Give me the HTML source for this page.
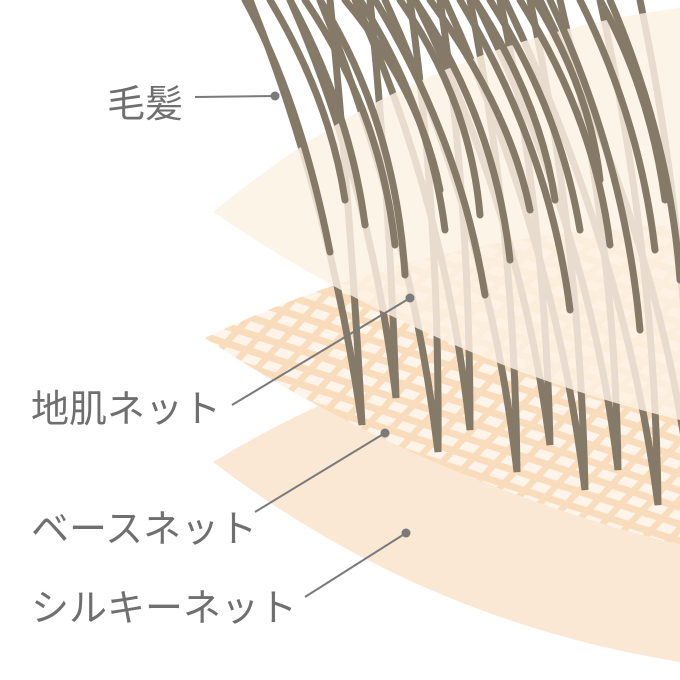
<!DOCTYPE html>
<html><head><meta charset="utf-8"><style>
html,body{margin:0;padding:0;background:#fff;width:680px;height:680px;overflow:hidden}
svg{display:block}
text{font-family:"Liberation Sans","Noto Sans CJK JP",sans-serif;fill:#6f6f6f;font-size:38px}
</style></head><body>
<svg width="680" height="680" viewBox="0 0 680 680">
<defs>
<pattern id="mesh" width="22" height="16" patternUnits="userSpaceOnUse" patternTransform="rotate(18) skewX(-25)">
<rect width="22" height="16" fill="#f9dcbb"/>
<rect x="4" y="4" width="15" height="9" fill="#fef4ea"/>
</pattern>
<clipPath id="meshclip"><path d="M205,338 Q430,230 680,225 L680,545 Q420,480 205,338 Z"/></clipPath>
</defs>
<path d="M213,462 Q430,330 680,320 L680,662 Q420,620 213,462 Z" fill="#fbe8d4"/>
<g clip-path="url(#meshclip)">
<rect x="200" y="220" width="480" height="330" fill="url(#mesh)"/>
</g>
<g fill="none" stroke="#857a68" stroke-width="7" stroke-linecap="round">
<path d="M250,0 Q330,200 362,425 Q350,200 330,0"/>
<path d="M290,0 Q370,180 396,398 Q390,200 370,0"/>
<path d="M320,0 Q410,220 438,452 Q440,220 410,0"/>
<path d="M355,0 Q445,200 470,430 Q470,200 440,0"/>
<path d="M385,0 Q490,230 517,472 Q515,230 470,0"/>
<path d="M415,0 Q520,210 550,445 Q545,210 500,0"/>
<path d="M445,0 Q555,240 585,490 Q580,240 530,0"/>
<path d="M475,0 Q590,230 618,470 Q615,230 560,0"/>
<path d="M505,0 Q625,250 658,505 Q655,250 600,0"/>
<path d="M540,0 Q660,240 690,480 Q690,240 640,0"/>
</g>
<path d="M213,212 Q420,40 680,8 L680,420 Q430,360 213,212 Z" fill="#fdf1e3" opacity="0.82"/>
<g fill="none" stroke="#857a68" stroke-width="7" stroke-linecap="round">
<path d="M245,0 Q300,100 330,252"/>
<path d="M270,0 Q330,100 345,200"/>
<path d="M290,0 Q350,110 365,225"/>
<path d="M305,0 Q380,110 395,245"/>
<path d="M320,0 Q395,120 405,275"/>
<path d="M345,0 Q420,90 440,190"/>
<path d="M360,0 Q430,110 445,230"/>
<path d="M375,0 Q460,140 485,295"/>
<path d="M400,0 Q470,100 480,215"/>
<path d="M415,0 Q495,120 510,260"/>
<path d="M430,0 Q510,110 530,210"/>
<path d="M460,0 Q550,150 570,310"/>
<path d="M475,0 Q540,100 555,200"/>
<path d="M490,0 Q560,110 580,230"/>
<path d="M520,0 Q595,120 610,245"/>
<path d="M535,0 Q590,90 600,180"/>
<path d="M550,0 Q625,160 640,330"/>
<path d="M580,0 Q640,120 655,250"/>
<path d="M600,0 Q650,90 665,200"/>
<path d="M610,0 Q670,140 680,280"/>
</g>
<g stroke="#7a7a7a" stroke-width="2" fill="#7a7a7a">
<line x1="195" y1="97" x2="275" y2="96"/><circle cx="275" cy="96" r="4.5" stroke="none"/>
<line x1="232" y1="405" x2="410" y2="298"/><circle cx="410" cy="298" r="4.5" stroke="none"/>
<line x1="255" y1="512" x2="385" y2="433"/><circle cx="385" cy="433" r="4.5" stroke="none"/>
<line x1="305" y1="597" x2="406" y2="533"/><circle cx="406" cy="533" r="4.5" stroke="none"/>
</g>
<text x="107" y="117">毛髪</text>
<text x="31" y="422">地肌ネット</text>
<text x="31" y="542">ベースネット</text>
<text x="31" y="621">シルキーネット</text>
</svg>
</body></html>
